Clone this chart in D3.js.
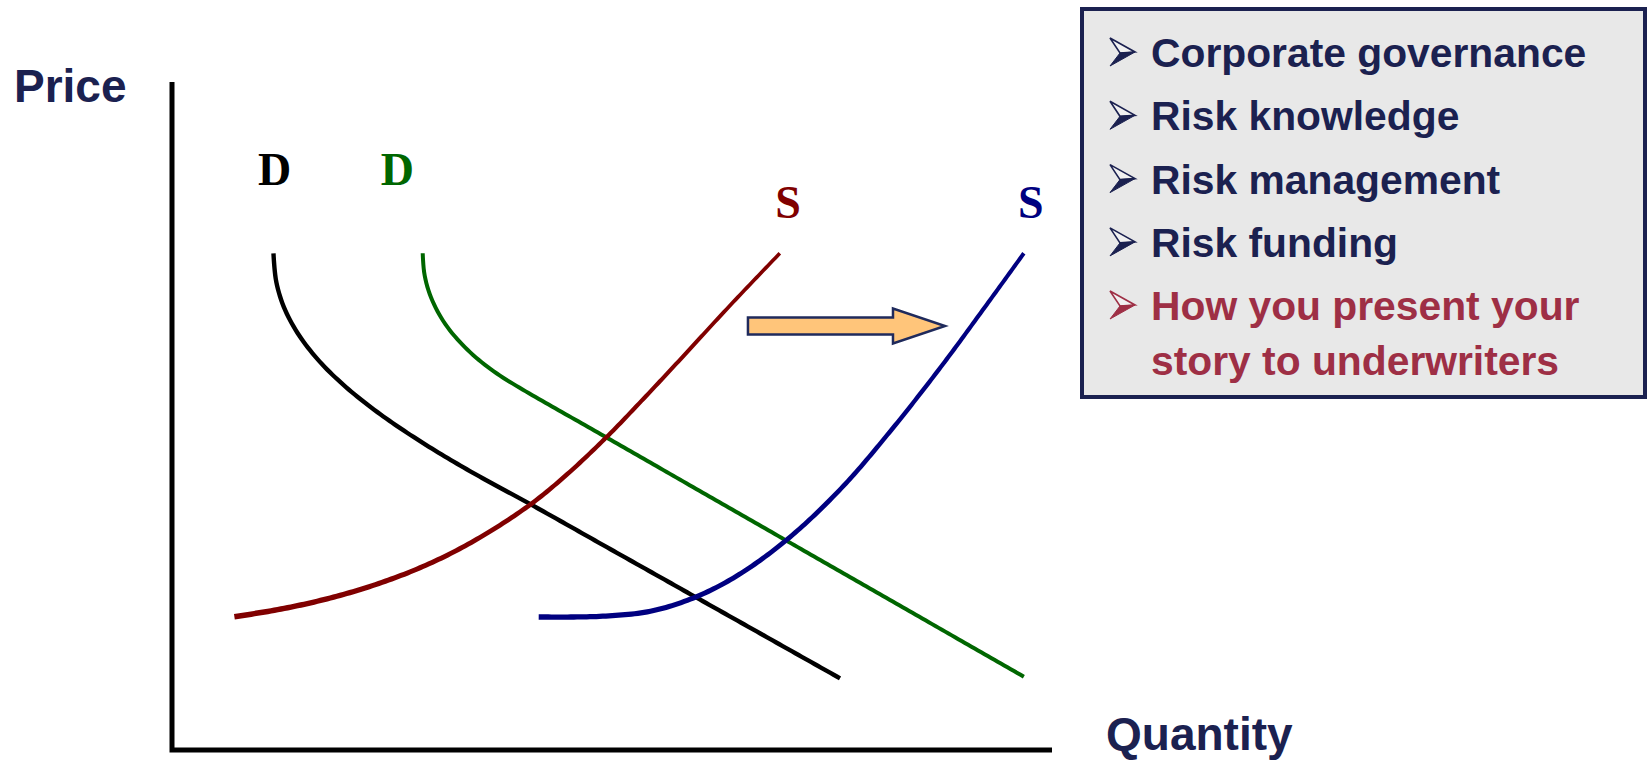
<!DOCTYPE html>
<html>
<head>
<meta charset="utf-8">
<script src="https://cdn.jsdelivr.net/npm/d3@7/dist/d3.min.js"></script>
<style>
  html, body { margin: 0; padding: 0; background: #ffffff; }
  svg { display: block; }
</style>
</head>
<body>
<svg id="chart" width="1647" height="760"></svg>
<script>
// Supply and demand curves, as [quantity, price] on a 0–100 scale
const demandOld = [[11.53,74.36],[11.84,70.15],[12.78,66.09],[14.41,62.14],[16.73,58.22],[19.81,54.28],[23.66,50.27],[28.34,46.11],[33.86,41.75],[41.33,36.36],[48.64,30.94],[60.00,22.52],[75.91,10.73]];
const demandNew = [[28.49,74.36],[28.66,71.46],[29.18,68.66],[30.05,65.98],[31.25,63.40],[32.81,60.94],[34.70,58.58],[36.95,56.33],[39.55,54.19],[48.64,47.34],[60.00,38.76],[71.36,30.18],[82.73,21.60],[96.80,10.97]];
const supplyOld = [[7.09,19.96],[11.70,20.93],[16.25,22.19],[20.45,23.65],[24.70,25.48],[28.64,27.54],[32.53,30.01],[36.93,33.37],[41.33,37.35],[45.45,41.92],[49.68,47.23],[53.18,52.02],[57.33,57.86],[63.41,66.54],[69.07,74.36]];
const supplyNew = [[41.67,19.91],[48.64,20.01],[54.32,20.76],[58.86,22.56],[62.84,25.03],[66.82,28.38],[71.36,33.17],[76.48,39.78],[81.59,47.66],[87.27,57.17],[92.39,66.33],[96.80,74.36]];

// Curve labels
const curveLabels = [
  { text: "D", q: 11.65, p: 84.6, color: "#000000" },
  { text: "D", q: 25.60, p: 84.6, color: "#006600" },
  { text: "S", q: 70.0,  p: 79.6, color: "#800000" },
  { text: "S", q: 97.6,  p: 79.6, color: "#000080" }
];

// Shift arrow: from quantity to quantity at a price level
const shiftArrow = { from: 65.45, to: 87.84, p: 63.47 };

// Bulleted list
const bulletItems = ["Corporate governance", "Risk knowledge", "Risk management", "Risk funding"];
const highlightItem = ["How you present your", "story to underwriters"];

const axisTitles = { y: "Price", x: "Quantity" };

const svg = d3.select("#chart");
const navy = "#1b2150";

const x = d3.scaleLinear().domain([0, 100]).range([172, 1052]);
const y = d3.scaleLinear().domain([0, 100]).range([750, 82]);

// Axes (plain L-shaped lines, no ticks)
svg.append("path")
  .attr("d", d3.line()([[x(0), y(100)], [x(0), y(0)], [x(100), y(0)]]))
  .attr("fill", "none").attr("stroke", "#000").attr("stroke-width", 5)
  .attr("stroke-linejoin", "miter");

svg.append("text").text(axisTitles.y)
  .attr("x", 14).attr("y", 102)
  .attr("font-family", "Liberation Sans, Arial, sans-serif")
  .attr("font-weight", "bold").attr("font-size", 46).attr("fill", navy);

svg.append("text").text(axisTitles.x)
  .attr("x", 1106).attr("y", 750)
  .attr("font-family", "Liberation Sans, Arial, sans-serif")
  .attr("font-weight", "bold").attr("font-size", 46).attr("fill", navy);

// Curves
const line = d3.line().x(d => x(d[0])).y(d => y(d[1])).curve(d3.curveCatmullRom.alpha(0.5));

// Stroke a curve as a filled ribbon whose width goes from w0 to w1
function taperedCurve(parent, data, color, w0, w1) {
  const tmp = parent.append("path").attr("d", line(data)).attr("fill", "none");
  const node = tmp.node();
  const L = node.getTotalLength();
  const n = 200;
  const pts = d3.range(n + 1).map(i => node.getPointAtLength(L * i / n));
  tmp.remove();
  const left = [], right = [];
  pts.forEach((p, i) => {
    const a = pts[Math.max(0, i - 1)], b = pts[Math.min(n, i + 1)];
    const dx = b.x - a.x, dy = b.y - a.y;
    const len = Math.hypot(dx, dy) || 1;
    const nx = -dy / len, ny = dx / len;
    const hw = (w0 + (w1 - w0) * i / n) / 2;
    left.push([p.x + nx * hw, p.y + ny * hw]);
    right.push([p.x - nx * hw, p.y - ny * hw]);
  });
  parent.append("path")
    .attr("d", d3.line()(left.concat(right.reverse())) + "Z")
    .attr("fill", color);
}

const curveG = svg.append("g");
taperedCurve(curveG, demandOld, "#000000", 4.4, 4.4);
taperedCurve(curveG, demandNew, "#006600", 4.0, 4.0);
taperedCurve(curveG, supplyOld, "#800000", 5.6, 3.6);
taperedCurve(curveG, supplyNew, "#000080", 5.4, 4.0);

svg.append("g").selectAll("text").data(curveLabels).join("text")
  .text(d => d.text)
  .attr("x", d => x(d.q)).attr("y", d => y(d.p))
  .attr("text-anchor", "middle")
  .attr("font-family", "Liberation Serif, Times New Roman, serif")
  .attr("font-weight", "bold").attr("font-size", 46)
  .attr("fill", d => d.color);

// Block arrow showing the supply shift
{
  const x0 = x(shiftArrow.from), x1 = x(shiftArrow.to), cy = y(shiftArrow.p);
  const headLen = 52, bodyH = 8.5, headH = 17.5;
  const xb = x1 - headLen;
  const pts = [[x0, cy - bodyH], [xb, cy - bodyH], [xb, cy - headH], [x1, cy],
               [xb, cy + headH], [xb, cy + bodyH], [x0, cy + bodyH]];
  svg.append("path")
    .attr("d", d3.line()(pts) + "Z")
    .attr("fill", "#ffc57a").attr("stroke", "#1f2a5c").attr("stroke-width", 2.5)
    .attr("stroke-linejoin", "miter");
}

// Side panel with bullet list
const panel = svg.append("g");
panel.append("rect")
  .attr("x", 1082).attr("y", 9).attr("width", 563).attr("height", 388)
  .attr("fill", "#e8e8e8").attr("stroke", navy).attr("stroke-width", 4);

const red = "#9e2f45";
const lines = bulletItems.map((t, i) => ({ text: t, base: 67 + i * 63.3, color: navy, bullet: true }))
  .concat([
    { text: highlightItem[0], base: 320, color: red, bullet: true },
    { text: highlightItem[1], base: 375, color: red, bullet: false }
  ]);

function bullet(gp, bx, cy, color) {
  // arrowhead bullet: light upper facet, solid lower facet
  const A = [bx, cy - 14], T = [bx + 25, cy], N = [bx + 10, cy + 1], B = [bx, cy + 14];
  gp.append("path").attr("d", d3.line()([A, T, N]) + "Z")
    .attr("fill", "#ffffff").attr("fill-opacity", 0.4)
    .attr("stroke", color).attr("stroke-width", 1.6).attr("stroke-linejoin", "miter");
  gp.append("path").attr("d", d3.line()([N, T, B]) + "Z")
    .attr("fill", color).attr("stroke", color).attr("stroke-width", 1).attr("stroke-linejoin", "miter");
}

lines.forEach(l => {
  if (l.bullet) bullet(panel, 1110, l.base - 15, l.color);
  panel.append("text").text(l.text)
    .attr("x", 1151).attr("y", l.base)
    .attr("font-family", "Liberation Sans, Arial, sans-serif")
    .attr("font-weight", "bold").attr("font-size", 40.8)
    .attr("fill", l.color);
});
</script>
</body>
</html>
